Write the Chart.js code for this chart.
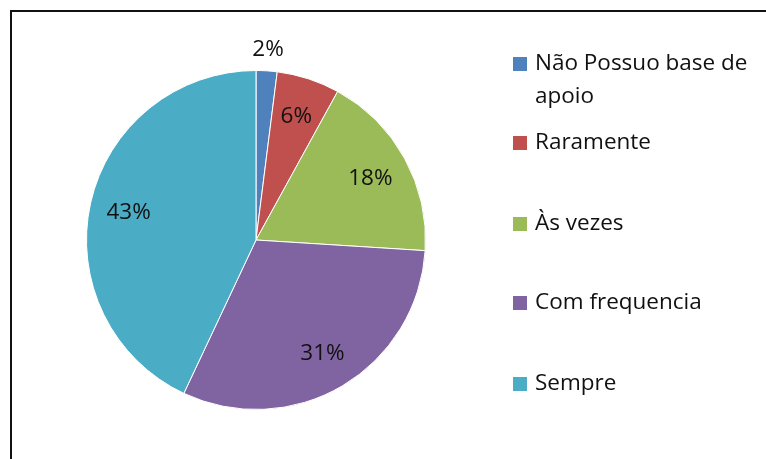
<!DOCTYPE html>
<html>
<head>
<meta charset="utf-8">
<script src="https://cdn.jsdelivr.net/npm/chart.js@4/dist/chart.umd.min.js"></script>
<style>
  html, body { margin: 0; padding: 0; background: #fff; overflow: hidden; }
  #wrap { position: relative; width: 766px; height: 459px; }
  #frame { position: absolute; left: 10px; top: 10px; width: 800px; height: 500px;
           border-left: 2px solid #111; border-top: 2px solid #111; }
  canvas { position: absolute; left: 0; top: 0; }
</style>
</head>
<body>
<div id="wrap">
  <div id="frame"></div>
  <canvas id="pieChart" width="766" height="459"></canvas>
</div>
<script>
// chart values
const categories = ['Não Possuo base de apoio', 'Raramente', 'Às vezes', 'Com frequencia', 'Sempre'];
const legendLines = [['Não Possuo base de', 'apoio'], ['Raramente'], ['Às vezes'], ['Com frequencia'], ['Sempre']];
const percentages = [2, 6, 18, 31, 43];
const sliceColors = ['#4F81BD', '#C0504D', '#9BBB59', '#8064A2', '#4BACC6'];

const FONT = '22.5px "Open Sans", Lato, sans-serif';

// percent labels, inside the slice or just outside for tiny ones
const sliceLabels = {
  id: 'sliceLabels',
  afterDatasetsDraw(chart) {
    const ctx = chart.ctx;
    const meta = chart.getDatasetMeta(0);
    ctx.save();
    ctx.font = FONT;
    ctx.fillStyle = '#111';
    ctx.textAlign = 'center';
    ctx.textBaseline = 'middle';
    meta.data.forEach((arc, i) => {
      const mid = (arc.startAngle + arc.endAngle) / 2;
      const r = percentages[i] < 5 ? arc.outerRadius + 22 : arc.outerRadius * 0.77;
      ctx.fillText(percentages[i] + '%', arc.x + Math.cos(mid) * r, arc.y + Math.sin(mid) * r + 1);
    });
    ctx.restore();
  }
};

// legend on the right, like the original
const sideLegend = {
  id: 'sideLegend',
  afterDraw(chart) {
    const ctx = chart.ctx;
    const tops = [64, 143, 224, 303, 384];
    ctx.save();
    ctx.font = FONT;
    ctx.textBaseline = 'middle';
    legendLines.forEach((lines, i) => {
      ctx.fillStyle = sliceColors[i];
      ctx.fillRect(513, tops[i] - 7, 14, 14);
      ctx.fillStyle = '#111';
      lines.forEach((txt, j) => ctx.fillText(txt, 535, tops[i] + j * 33));
    });
    ctx.restore();
  }
};

new Chart(document.getElementById('pieChart'), {
  type: 'pie',
  data: {
    labels: categories,
    datasets: [{
      data: percentages,
      backgroundColor: sliceColors,
      borderColor: '#fff',
      borderWidth: 1
    }]
  },
  options: {
    responsive: false,
    animation: false,
    layout: { padding: { left: 86, right: 340, top: 70, bottom: 49 } },
    plugins: { legend: { display: false }, tooltip: { enabled: false } }
  },
  plugins: [sliceLabels, sideLegend]
});
</script>
</body>
</html>
